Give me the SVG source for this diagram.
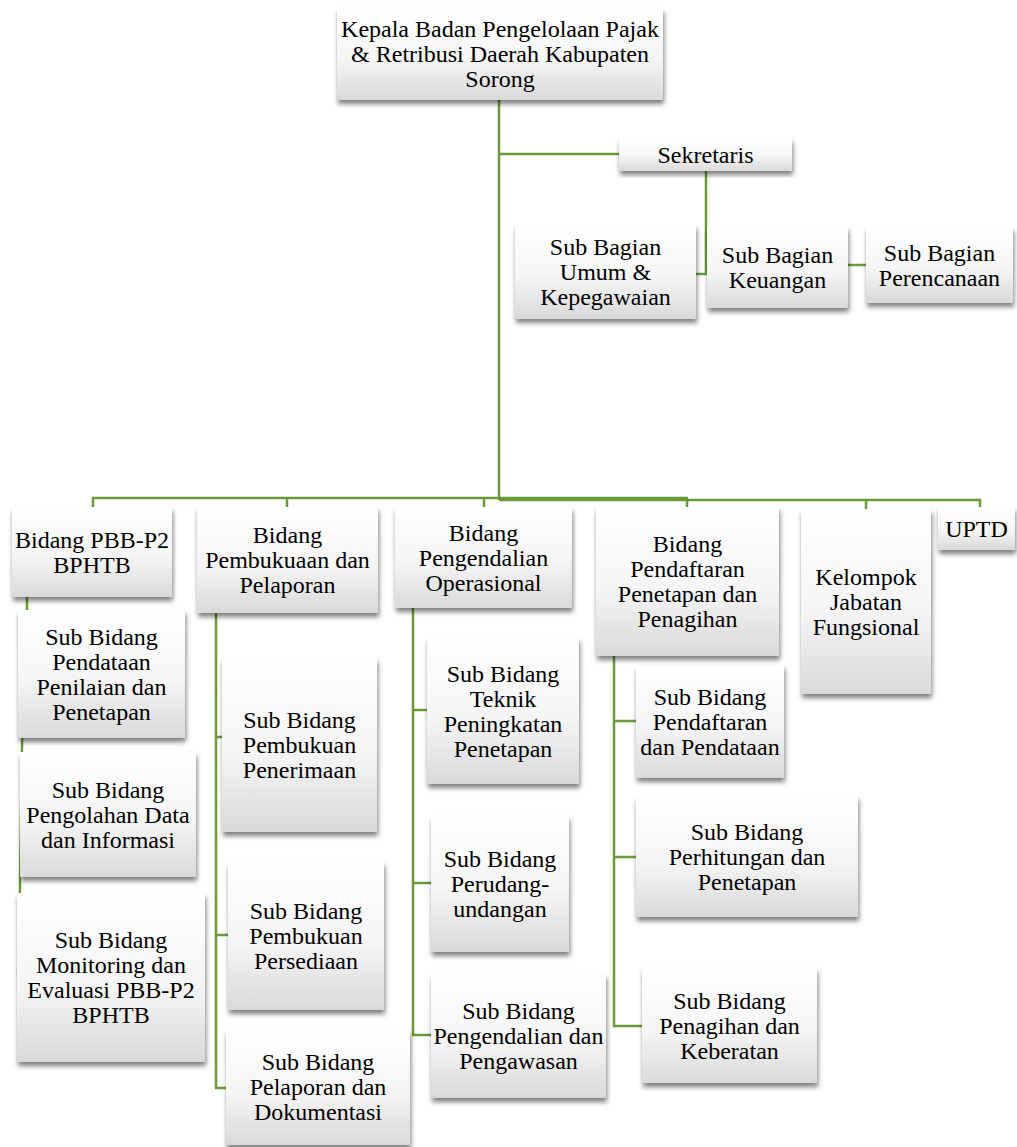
<svg xmlns="http://www.w3.org/2000/svg" width="1017" height="1147" viewBox="0 0 1017 1147">
<defs>
<linearGradient id="g" x1="0" y1="0" x2="0" y2="1">
<stop offset="0" stop-color="#ffffff"/>
<stop offset="0.55" stop-color="#f5f5f5"/>
<stop offset="1" stop-color="#d9d9d9"/>
</linearGradient>
<filter id="sh" x="-10%" y="-10%" width="125%" height="130%">
<feDropShadow dx="1" dy="4" stdDeviation="2.5" flood-color="#000" flood-opacity="0.5"/>
</filter>
</defs>
<style>
.box{fill:url(#g);filter:url(#sh);}
text{font-family:'Liberation Serif','DejaVu Serif',serif;font-size:24px;text-anchor:middle;fill:#000;}
.c{stroke:#6A9A3A;stroke-width:2.5;fill:none;}
</style>
<rect width="1017" height="1147" fill="#fff"/>
<g id="connectors">
<path class="c" d="M499 100 V500"/>
<path class="c" d="M499 154 H619"/>
<path class="c" d="M706 171 V274 H696"/>
<path class="c" d="M848 265 H866"/>
<path class="c" d="M93 507 V498 H688"/>
<path class="c" d="M499 500 H980 V507"/>
<path class="c" d="M287 498 V507 M484 498 V507 M687 498 V507 M866 500 V509"/>
<path class="c" d="M27 597 V612 L22 745 L20 885 L18 975"/>
<path class="c" d="M216 613 V1088 H226 M216 737 H222 M216 935 H228"/>
<path class="c" d="M413 608 V1035 H431 M413 710 H427 M413 883 H431"/>
<path class="c" d="M614 656 V1026 H642 M614 721 H636 M614 857 H636"/>
</g>
<g font-family="Liberation Serif, DejaVu Serif, serif">
<g id="kepala"><rect class="box" x="337" y="8" width="326" height="92"/>
<text x="500" y="37">Kepala Badan Pengelolaan Pajak</text>
<text x="500" y="62">&amp; Retribusi Daerah Kabupaten</text>
<text x="500" y="87">Sorong</text></g>
<g id="sekretaris"><rect class="box" x="619" y="138" width="173" height="33"/>
<text x="705.5" y="162.5">Sekretaris</text></g>
<g id="umum"><rect class="box" x="515" y="225" width="181" height="94"/>
<text x="605.5" y="255">Sub Bagian</text>
<text x="605.5" y="280">Umum &amp;</text>
<text x="605.5" y="305">Kepegawaian</text></g>
<g id="keuangan"><rect class="box" x="707" y="227" width="141" height="81"/>
<text x="777.5" y="263">Sub Bagian</text>
<text x="777.5" y="288">Keuangan</text></g>
<g id="perencanaan"><rect class="box" x="866" y="227" width="147" height="76"/>
<text x="939.5" y="260.5">Sub Bagian</text>
<text x="939.5" y="285.5">Perencanaan</text></g>
<g id="bidang-pbb"><rect class="box" x="12" y="507" width="160" height="90"/>
<text x="92" y="547.5">Bidang PBB-P2</text>
<text x="92" y="572.5">BPHTB</text></g>
<g id="bidang-pembukuaan"><rect class="box" x="197" y="507" width="181" height="106"/>
<text x="287.5" y="543">Bidang</text>
<text x="287.5" y="568">Pembukuaan dan</text>
<text x="287.5" y="593">Pelaporan</text></g>
<g id="bidang-pengendalian"><rect class="box" x="395" y="507" width="177" height="101"/>
<text x="483.5" y="540.5">Bidang</text>
<text x="483.5" y="565.5">Pengendalian</text>
<text x="483.5" y="590.5">Operasional</text></g>
<g id="bidang-pendaftaran"><rect class="box" x="596" y="507" width="183" height="149"/>
<text x="687.5" y="552">Bidang</text>
<text x="687.5" y="577">Pendaftaran</text>
<text x="687.5" y="602">Penetapan dan</text>
<text x="687.5" y="627">Penagihan</text></g>
<g id="kelompok"><rect class="box" x="801" y="509" width="130" height="185"/>
<text x="866" y="584.5">Kelompok</text>
<text x="866" y="609.5">Jabatan</text>
<text x="866" y="634.5">Fungsional</text></g>
<g id="uptd"><rect class="box" x="938" y="507" width="77" height="43"/>
<text x="976.5" y="536.5">UPTD</text></g>
<g id="sb-pendataan"><rect class="box" x="18" y="610" width="167" height="128"/>
<text x="101.5" y="644.5">Sub Bidang</text>
<text x="101.5" y="669.5">Pendataan</text>
<text x="101.5" y="694.5">Penilaian dan</text>
<text x="101.5" y="719.5">Penetapan</text></g>
<g id="sb-pengolahan"><rect class="box" x="20" y="752" width="176" height="125"/>
<text x="108" y="797.5">Sub Bidang</text>
<text x="108" y="822.5">Pengolahan Data</text>
<text x="108" y="847.5">dan Informasi</text></g>
<g id="sb-monitoring"><rect class="box" x="17" y="893" width="188" height="169"/>
<text x="111" y="948">Sub Bidang</text>
<text x="111" y="973">Monitoring dan</text>
<text x="111" y="998">Evaluasi PBB-P2</text>
<text x="111" y="1023">BPHTB</text></g>
<g id="sb-penerimaan"><rect class="box" x="222" y="658" width="155" height="174"/>
<text x="299.5" y="728">Sub Bidang</text>
<text x="299.5" y="753">Pembukuan</text>
<text x="299.5" y="778">Penerimaan</text></g>
<g id="sb-persediaan"><rect class="box" x="228" y="862" width="156" height="148"/>
<text x="306" y="919">Sub Bidang</text>
<text x="306" y="944">Pembukuan</text>
<text x="306" y="969">Persediaan</text></g>
<g id="sb-pelaporan"><rect class="box" x="226" y="1030" width="184" height="115"/>
<text x="318" y="1070">Sub Bidang</text>
<text x="318" y="1095">Pelaporan dan</text>
<text x="318" y="1120">Dokumentasi</text></g>
<g id="sb-teknik"><rect class="box" x="427" y="638" width="152" height="146"/>
<text x="503" y="681.5">Sub Bidang</text>
<text x="503" y="706.5">Teknik</text>
<text x="503" y="731.5">Peningkatan</text>
<text x="503" y="756.5">Penetapan</text></g>
<g id="sb-perundangan"><rect class="box" x="431" y="816" width="138" height="136"/>
<text x="500" y="867">Sub Bidang</text>
<text x="500" y="892">Perudang-</text>
<text x="500" y="917">undangan</text></g>
<g id="sb-pengawasan"><rect class="box" x="431" y="974" width="175" height="124"/>
<text x="518.5" y="1019">Sub Bidang</text>
<text x="518.5" y="1044">Pengendalian dan</text>
<text x="518.5" y="1069">Pengawasan</text></g>
<g id="sb-pendaftaran"><rect class="box" x="636" y="665" width="148" height="113"/>
<text x="710" y="704.5">Sub Bidang</text>
<text x="710" y="729.5">Pendaftaran</text>
<text x="710" y="754.5">dan Pendataan</text></g>
<g id="sb-perhitungan"><rect class="box" x="636" y="796" width="222" height="121"/>
<text x="747" y="839.5">Sub Bidang</text>
<text x="747" y="864.5">Perhitungan dan</text>
<text x="747" y="889.5">Penetapan</text></g>
<g id="sb-penagihan"><rect class="box" x="642" y="968" width="175" height="115"/>
<text x="729.5" y="1008.5">Sub Bidang</text>
<text x="729.5" y="1033.5">Penagihan dan</text>
<text x="729.5" y="1058.5">Keberatan</text></g>
</g>
</svg>
